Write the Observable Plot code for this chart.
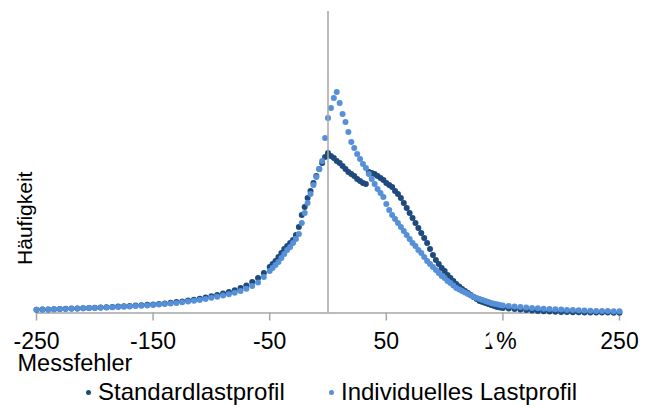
<!DOCTYPE html>
<html>
<head>
<meta charset="utf-8">
<script src="https://cdn.jsdelivr.net/npm/d3@7"></script>
<script src="https://cdn.jsdelivr.net/npm/@observablehq/plot@0.6"></script>
<style>
  body { margin: 0; background: white; font-family: "Liberation Sans", Arial, sans-serif; }
  #wrap { width: 645px; }
  #legend { position: relative; width: 645px; height: 30px; font-size: 24px; line-height: 30px; color: #000; }
  #legend .b { position: absolute; top: 15px; width: 5px; height: 5px; border-radius: 50%; }
  #legend .t { position: absolute; top: 2px; white-space: nowrap; }
</style>
</head>
<body>
<div id="wrap"></div>
<script>
// x values: Messfehler in %
const messfehler = [
  -250,-245,-240,-235,-230,-225,-220,-215,-210,-205,
  -200,-195,-190,-185,-180,-175,-170,-165,-160,-155,
  -150,-145,-140,-135,-130,-125,-120,-115,-110,-105,
  -100,-95,-90,-85,-80,-75,-70,-65,-60,-55,
  -50,-47.5,-45,-42.5,-40,-37.5,-35,-32.5,-30,-27.5,
  -25,-22.5,-20,-17.5,-15,-12.5,-10,-7.5,-5,-2.5,
  0,2.5,5,7.5,10,12.5,15,17.5,20,22.5,
  25,27.5,30,32.5,35,37.5,40,42.5,45,47.5,
  50,52.5,55,57.5,60,62.5,65,67.5,70,72.5,
  75,77.5,80,82.5,85,87.5,90,92.5,95,97.5,
  100,102.5,105,107.5,110,112.5,115,117.5,120,122.5,
  125,127.5,130,132.5,135,137.5,140,142.5,145,147.5,
  150,
  155,160,165,170,175,180,185,190,195,200,
  205,210,215,220,225,230,235,240,245,250
];
// Häufigkeit, Standardlastprofil
const standard = [
  3.3,3.4,3.6,3.8,4.0,4.2,4.4,4.6,4.8,5.0,
  5.3,5.5,5.8,6.1,6.4,6.7,7.0,7.4,7.8,8.2,
  8.6,9.1,9.6,10.2,10.9,11.6,12.4,13.3,14.3,15.4,
  16.7,18.0,19.4,21.0,22.8,25.0,27.6,31.0,35.0,40.0,
  46,49,52,56,60,64,67,70,73,78,
  86,98,106,115,122,130,137,144,150,156,
  160,157,155,152,150,147,144,141,139,137,
  134,132,130,129,141,140,139,137,135,133,
  130,128,126,122,119,115,110,105,100,95,
  90,85,80,75,70,64,58,53,49,45,
  42,38,35,32,29,26.5,24,22,20,18,
  16,14,12,11,10,9,8,7,6,5.5,
  5,
  4.5,4.0,3.4,2.9,2.4,2.0,1.7,1.4,1.2,1.0,
  0.9,0.8,0.7,0.6,0.5,0.5,0.4,0.4,0.3,0.3
];
// Häufigkeit, Individuelles Lastprofil
const individuell = [
  3.3,3.4,3.5,3.7,3.9,4.1,4.3,4.5,4.7,4.9,
  5.1,5.3,5.5,5.8,6.0,6.3,6.6,6.9,7.2,7.6,
  8.0,8.4,8.9,9.4,10.0,10.7,11.4,12.2,13.1,14.1,
  15.2,16.3,17.5,18.8,20.3,22.0,24.2,27.0,30.5,36.0,
  42,45,48,51,55,59,63,66,70,74,
  79,90,100,110,119,128,136,144,152,175,
  195,205,215,221,210,199,191,181,171,165,
  159,154,149,145,139,134,129,124,120,116,
  109,103,98,94,90,86,82,78,74,70,
  67,63,60,56,52,49,46,43,40,37,
  35,32,30,27.5,25,23.5,22,20.5,19,17.5,
  16,15,14,13,12,11,10,9.3,8.7,8,
  7.5,
  7.0,6.5,6.0,5.5,5.1,4.7,4.3,4.0,3.7,3.4,
  3.1,2.9,2.7,2.5,2.3,2.1,2.0,1.9,1.8,1.7
];
const xTicks = [-250, -150, -50, 50, 150, 250];
const seriesNames = ["Standardlastprofil", "Individuelles Lastprofil"];
const seriesColors = ["#1f4a7d", "#5590d8"];

const dataStd = messfehler.map((x, i) => ({x, y: standard[i]}));
const dataInd = messfehler.map((x, i) => ({x, y: individuell[i]}));

const font = "'Liberation Sans', Arial, sans-serif";
const chart = Plot.plot({
  width: 645,
  height: 375,
  marginTop: 11,
  marginBottom: 62.5,
  marginLeft: 36,
  marginRight: 26,
  style: {fontFamily: font, fontSize: "23px", background: "white", color: "black", overflow: "visible"},
  x: {domain: [-250, 250]},
  y: {domain: [0, 301.5], axis: null},
  marks: [
    Plot.ruleY([0], {stroke: "#a6a6a6", strokeWidth: 1.5}),
    Plot.axisX({ticks: xTicks, tickSize: 8, tickPadding: 12, stroke: "#a6a6a6", strokeWidth: 1.5, fill: "black", fontSize: 23, label: null, tickFormat: d => String(d)}),
    Plot.dot(dataStd, {x: "x", y: "y", r: 3, fill: seriesColors[0], stroke: null}),
    Plot.dot(dataInd, {x: "x", y: "y", r: 3, fill: seriesColors[1], stroke: null}),
    Plot.ruleX([0], {stroke: "#a6a6a6", strokeWidth: 1.5}),
    Plot.text(["%"], {text: d => d, frameAnchor: "bottom-right", dx: -113, dy: 29, fontSize: 23, textAnchor: "middle", fill: "black", stroke: "white", strokeWidth: 16, paintOrder: "stroke", lineAnchor: "middle"}),
    Plot.text(["Messfehler"], {text: d => d, frameAnchor: "bottom-left", dx: -19, dy: 50, fontSize: 23.5, textAnchor: "start", lineAnchor: "middle", fill: "black"}),
    Plot.text(["Häufigkeit"], {text: d => d, frameAnchor: "left", dx: -11, dy: 56, rotate: -90, fontSize: 21, textAnchor: "middle", fill: "black", lineAnchor: "middle"})
  ]
});
document.getElementById("wrap").appendChild(chart);

const legend = document.createElement("div");
legend.id = "legend";
const pos = [[86, 98], [329, 341]];
seriesNames.forEach((name, i) => {
  const b = document.createElement("span");
  b.className = "b";
  b.style.left = pos[i][0] + "px";
  b.style.background = seriesColors[i];
  const t = document.createElement("span");
  t.className = "t";
  t.style.left = pos[i][1] + "px";
  t.textContent = name;
  legend.appendChild(b);
  legend.appendChild(t);
});
document.getElementById("wrap").appendChild(legend);
</script>
</body>
</html>
